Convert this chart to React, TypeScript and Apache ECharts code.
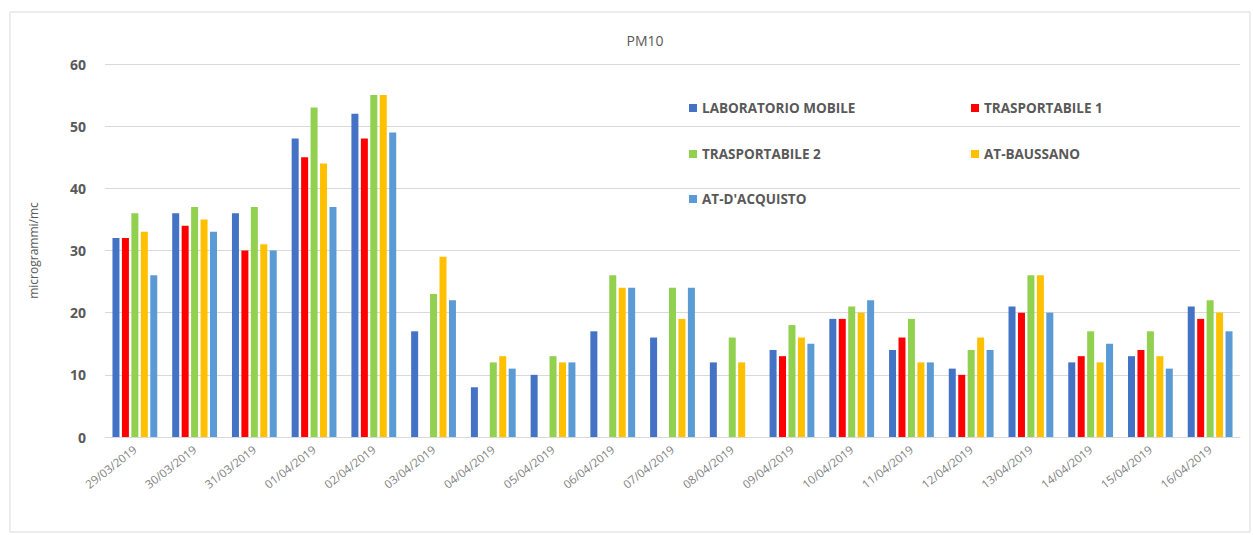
import React, { useEffect, useRef } from "react";
import * as echarts from "echarts";

const categories = [
  "29/03/2019", "30/03/2019", "31/03/2019", "01/04/2019", "02/04/2019",
  "03/04/2019", "04/04/2019", "05/04/2019", "06/04/2019", "07/04/2019",
  "08/04/2019", "09/04/2019", "10/04/2019", "11/04/2019", "12/04/2019",
  "13/04/2019", "14/04/2019", "15/04/2019", "16/04/2019",
];

const laboratorioMobile = [32, 36, 36, 48, 52, 17, 8, 10, 17, 16, 12, 14, 19, 14, 11, 21, 12, 13, 21];
const trasportabile1 = [32, 34, 30, 45, 48, null, null, null, null, null, null, 13, 19, 16, 10, 20, 13, 14, 19];
const trasportabile2 = [36, 37, 37, 53, 55, 23, 12, 13, 26, 24, 16, 18, 21, 19, 14, 26, 17, 17, 22];
const atBaussano = [33, 35, 31, 44, 55, 29, 13, 12, 24, 19, 12, 16, 20, 12, 16, 26, 12, 13, 20];
const atDAcquisto = [26, 33, 30, 37, 49, 22, 11, 12, 24, 24, null, 15, 22, 12, 14, 20, 15, 11, 17];

const seriesNames = ["LABORATORIO MOBILE", "TRASPORTABILE 1", "TRASPORTABILE 2", "AT-BAUSSANO", "AT-D'ACQUISTO"];
const seriesData = [laboratorioMobile, trasportabile1, trasportabile2, atBaussano, atDAcquisto];
const colors = ["#4472C4", "#FF0000", "#92D050", "#FFC000", "#5B9BD5"];
const legendPos = [
  { left: 684, top: 96 },
  { left: 966, top: 96 },
  { left: 684, top: 142 },
  { left: 966, top: 142 },
  { left: 684, top: 187 },
];

export default function App() {
  const ref = useRef<HTMLDivElement>(null);
  useEffect(() => {
    if (!ref.current) return;
    const chart = echarts.init(ref.current, undefined, { renderer: "svg" });
    const font = "'Open Sans', 'Liberation Sans', sans-serif";
    chart.setOption({
      animation: false,
      backgroundColor: "#ffffff",
      color: colors,
      title: {
        text: "PM10",
        left: 640,
        top: 28,
        textAlign: "center",
        textStyle: { fontSize: 14, fontWeight: "normal", color: "#595959", fontFamily: font },
      },
      graphic: [
        {
          type: "rect",
          shape: { x: 10, y: 12, width: 1240, height: 520 },
          style: { fill: "none", stroke: "#d9d9d9", lineWidth: 1 },
          silent: true,
        },
      ],
      legend: seriesNames.map((n, i) => ({
        data: [n],
        left: legendPos[i].left,
        top: legendPos[i].top,
        icon: "rect",
        itemWidth: 8,
        itemHeight: 8,
        itemGap: 6,
        textStyle: { fontSize: 13.5, fontWeight: "bold", color: "#595959", fontFamily: font },
      })),
      grid: { left: 105, right: 13, top: 64, bottom: 98 },
      xAxis: {
        type: "category",
        data: categories,
        axisLine: { lineStyle: { color: "#d9d9d9" } },
        axisTick: { show: false },
        axisLabel: {
          rotate: 38,
          fontSize: 11.5,
          color: "#7f7f7f",
          fontFamily: font,
          interval: 0,
          margin: 11,
        },
      },
      yAxis: {
        type: "value",
        min: 0,
        max: 60,
        interval: 10,
        name: "microgrammi/mc",
        nameLocation: "middle",
        nameGap: 66,
        nameTextStyle: { fontSize: 12, color: "#595959", fontFamily: font },
        axisLine: { show: false },
        axisTick: { show: false },
        axisLabel: { fontSize: 14, fontWeight: "bold", color: "#595959", fontFamily: font, margin: 19 },
        splitLine: { lineStyle: { color: "#d9d9d9" } },
      },
      series: seriesNames.map((n, i) => ({
        name: n,
        type: "bar",
        data: seriesData[i],
        barWidth: 7,
        barGap: "35%",
        itemStyle: { color: colors[i] },
      })),
    });
    return () => chart.dispose();
  }, []);
  return (
    <div
      ref={ref}
      style={{ position: "fixed", left: 0, top: 0, width: 1253, height: 535 }}
    />
  );
}
